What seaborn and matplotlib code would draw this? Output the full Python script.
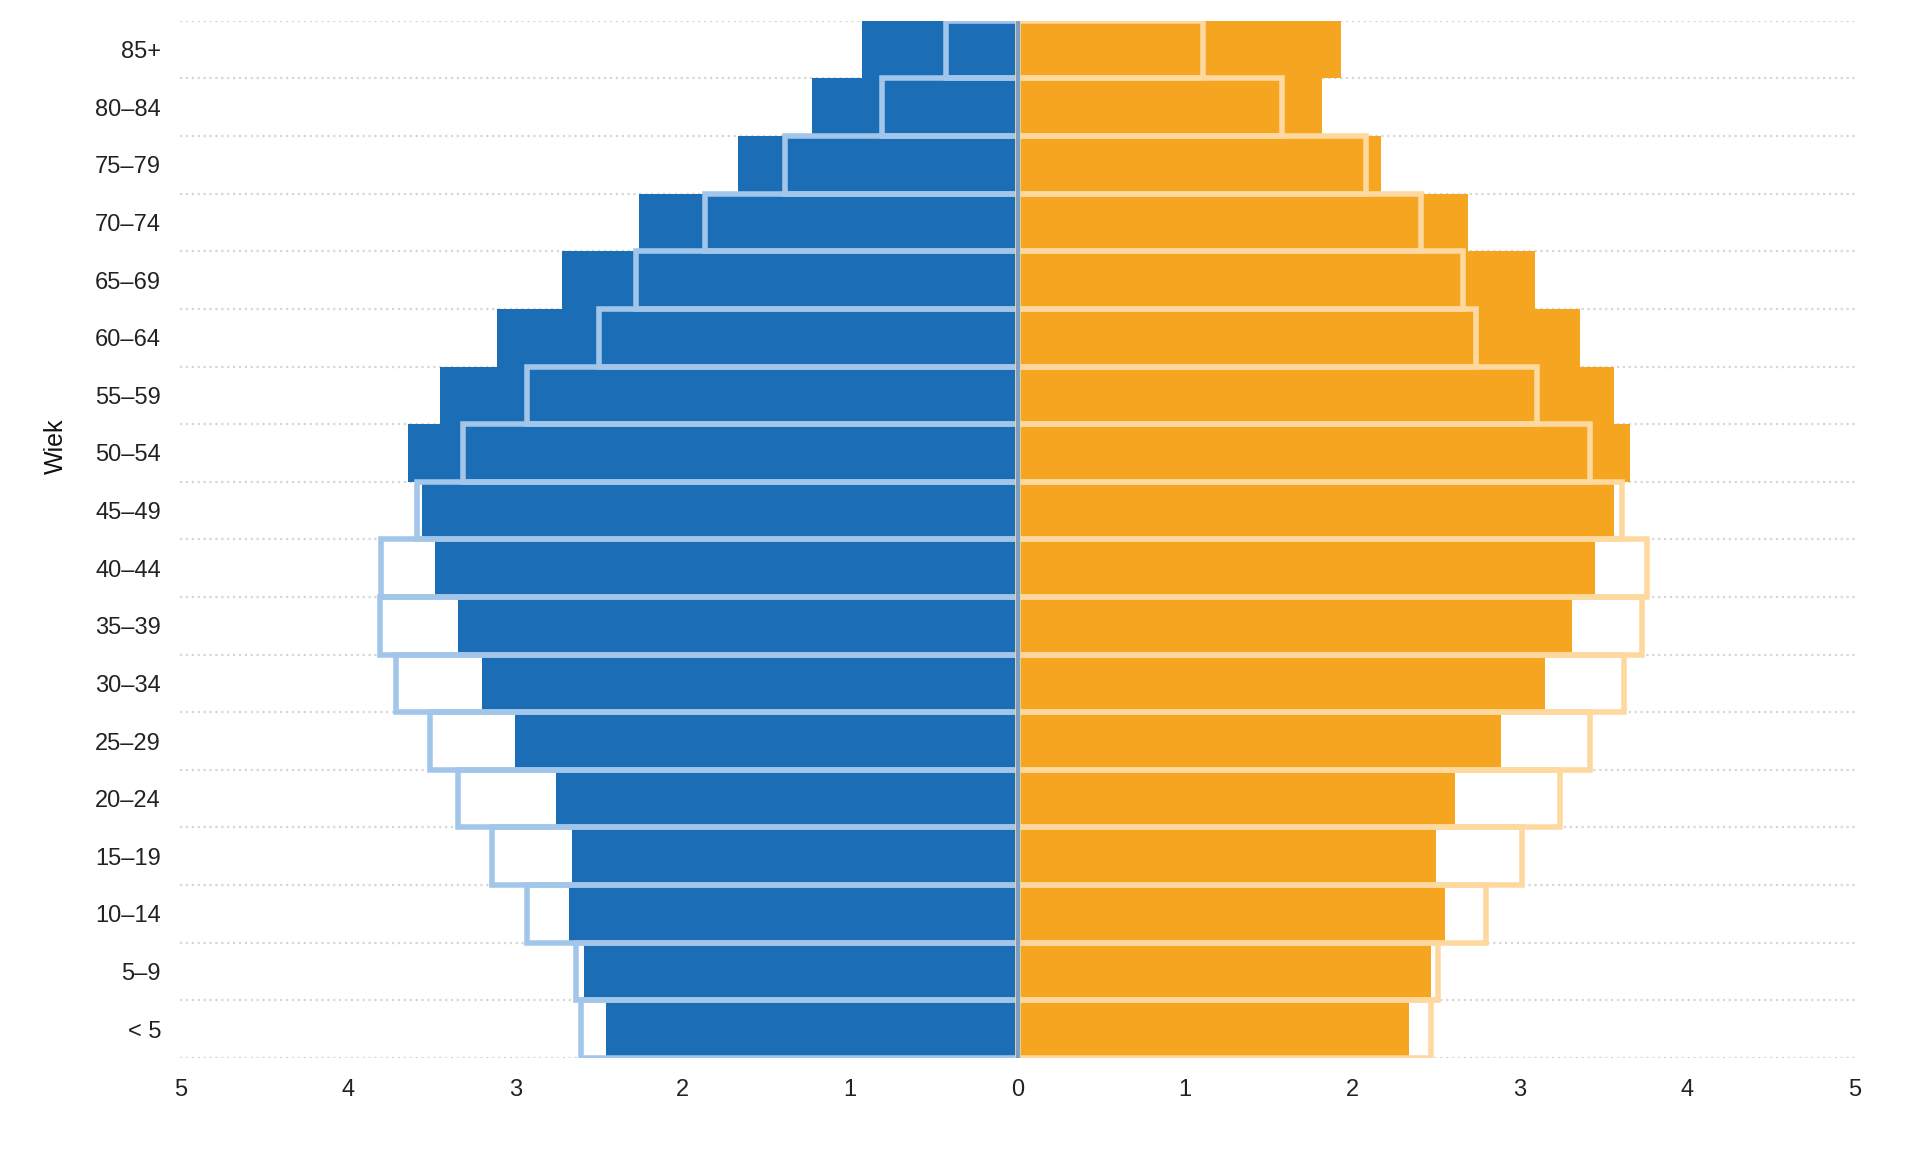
import numpy as np
import matplotlib
matplotlib.use("Agg")
import matplotlib.pyplot as plt
import pandas as pd
import seaborn as sns

# Age groups, top to bottom
wiek = ["85+", "80–84", "75–79", "70–74", "65–69", "60–64", "55–59", "50–54", "45–49",
        "40–44", "35–39", "30–34", "25–29", "20–24", "15–19", "10–14", "5–9", "< 5"]

# Filled bars (percent of population)
mezczyzni = [0.93, 1.23, 1.67, 2.26, 2.72, 3.11, 3.45, 3.64, 3.56,
             3.48, 3.34, 3.20, 3.00, 2.76, 2.66, 2.68, 2.59, 2.46]
kobiety = [1.93, 1.82, 2.17, 2.69, 3.09, 3.36, 3.56, 3.66, 3.56,
           3.45, 3.31, 3.15, 2.89, 2.61, 2.50, 2.55, 2.47, 2.34]

# Outlined bars (comparison year)
mezczyzni_por = [0.43, 0.81, 1.39, 1.87, 2.28, 2.50, 2.93, 3.31, 3.59,
                 3.80, 3.81, 3.71, 3.51, 3.34, 3.14, 2.93, 2.64, 2.61]
kobiety_por = [1.11, 1.58, 2.08, 2.41, 2.66, 2.74, 3.10, 3.42, 3.61,
               3.76, 3.73, 3.62, 3.42, 3.24, 3.01, 2.80, 2.51, 2.47]

df = pd.DataFrame({
    "wiek": wiek,
    "m": -np.array(mezczyzni),
    "k": kobiety,
    "m_por": -np.array(mezczyzni_por),
    "k_por": kobiety_por,
})

sns.set_style("white")
plt.rcParams["font.family"] = ["Liberation Sans", "DejaVu Sans"]

fig = plt.figure(figsize=(19.2, 11.55), dpi=100)
ax = fig.add_axes([0.094, 0.084, 0.872, 0.898])

# filled bars
sns.barplot(data=df, x="m", y="wiek", order=wiek, color="#1b6db5", width=1.0,
            saturation=1, linewidth=0, ax=ax, zorder=2)
sns.barplot(data=df, x="k", y="wiek", order=wiek, color="#f5a520", width=1.0,
            saturation=1, linewidth=0, ax=ax, zorder=2)

# outlined bars
sns.barplot(data=df, x="m_por", y="wiek", order=wiek, color="#a2c6ea", width=1.0,
            saturation=1, fill=False, linewidth=4, ax=ax, zorder=3)
sns.barplot(data=df, x="k_por", y="wiek", order=wiek, color="#fdd9a0", width=1.0,
            saturation=1, fill=False, linewidth=4, ax=ax, zorder=3)

# center line
ax.axvline(0, color="#7f9fc2", linewidth=3, zorder=4)

ax.set_xlim(-5, 5)
ax.set_ylim(len(wiek) - 0.5, -0.5)

ticks = np.arange(-5, 6)
ax.set_xticks(ticks)
ax.set_xticklabels([str(abs(t)) for t in ticks])
ax.set_yticks(np.arange(len(wiek) + 1) - 0.5, minor=True)
ax.grid(which="minor", axis="y", linestyle=":", color="#d6d6d6", linewidth=1.6, zorder=0)
ax.grid(which="major", visible=False)
ax.set_axisbelow(True)

ax.tick_params(axis="both", which="both", length=0, labelsize=17, labelcolor="#222222")
ax.tick_params(axis="y", pad=14)
ax.tick_params(axis="x", pad=15)

ax.set_xlabel("")
ax.set_ylabel("Wiek", fontsize=18, color="#111111")
ax.yaxis.set_label_coords(-0.067, 0.59)

sns.despine(ax=ax, left=True, bottom=True)

fig.savefig("out.png", dpi=100, facecolor="white")
